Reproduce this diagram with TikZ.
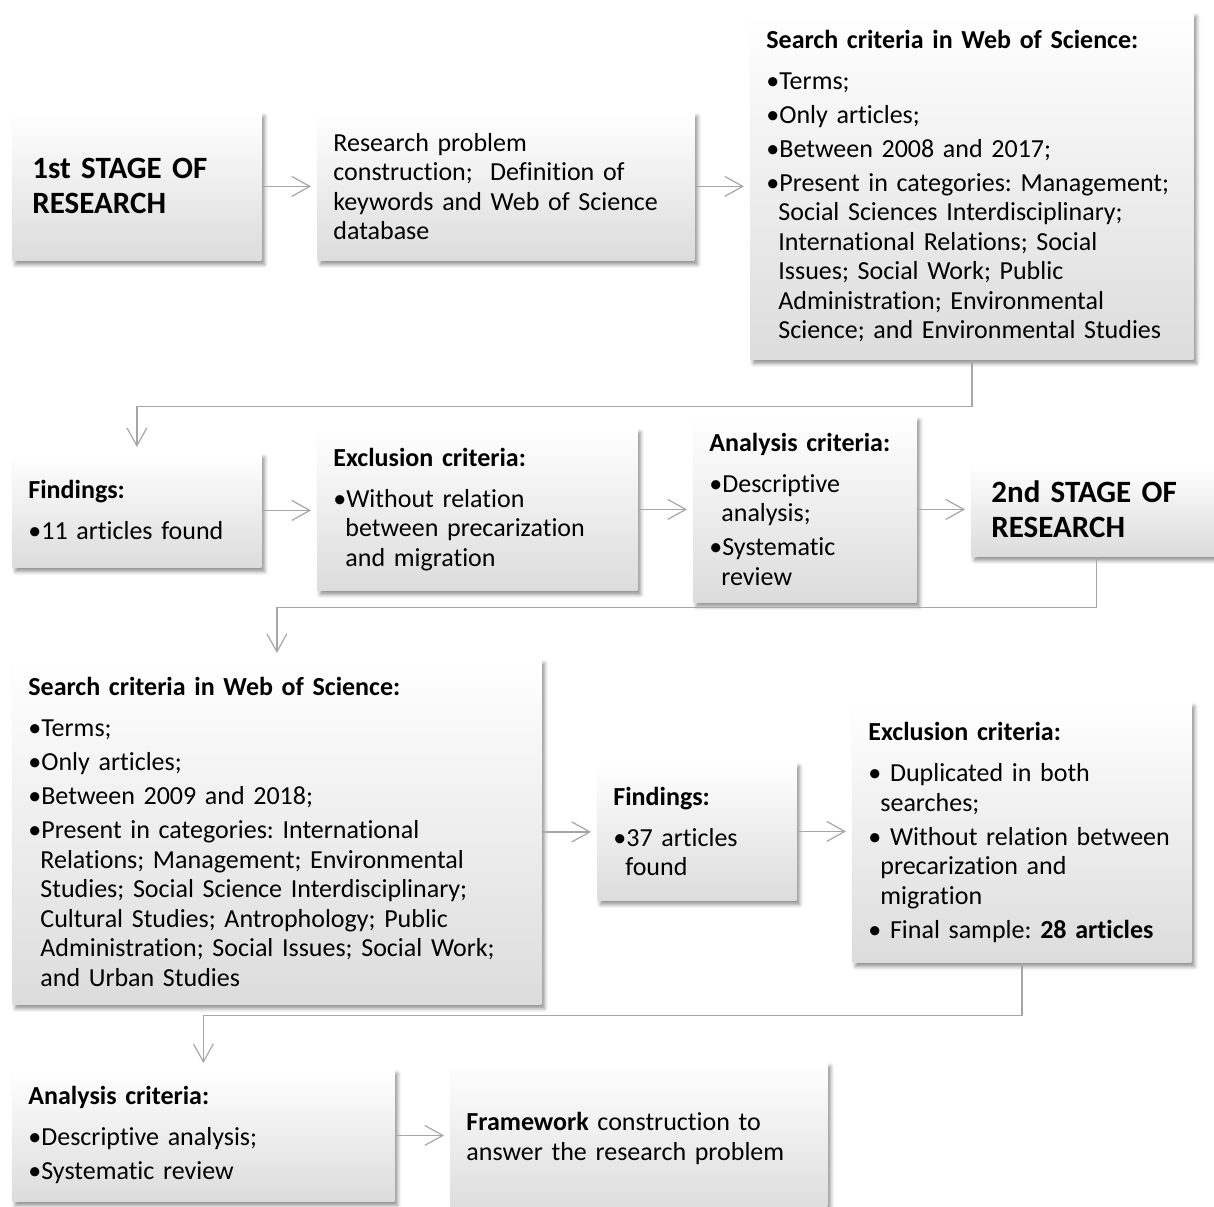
\documentclass[tikz,border=0pt]{standalone}
\usepackage{fontspec}
\setmainfont{Carlito}[Ligatures=CommonOff]
\usepackage{tikz}
\usetikzlibrary{arrows.meta,shadows.blur}
\definecolor{linkgray}{HTML}{A6A6A6}
\definecolor{boxbottom}{HTML}{DCDCDC}
\tikzset{
    box/.style={
        anchor=north west,
        align=left,
        inner xsep=8pt,
        inner ysep=0pt,
        top color=white,
        bottom color=boxbottom,
        blur shadow={shadow xshift=1.5pt,shadow yshift=-2pt,shadow blur steps=6,shadow opacity=45},
        font=\fontsize{13}{14.75}\selectfont\frenchspacing
    },
    stagebox/.style={
        box,
        inner xsep=10pt,
        font=\fontsize{15.5}{17.5}\selectfont\bfseries
    },
    link/.style={
        -{Straight Barb[length=9pt,width=10pt]},
        line width=0.6pt,
        color=linkgray,
        shorten >=3pt
    }
}
\newcommand{\hangin}{\hspace*{6pt}}

\begin{document}
\begin{tikzpicture}[x=0.5pt,y=-0.5pt]

    \useasboundingbox (0,0) rectangle (1214,1206);

    % Première étape
    \node[
        stagebox,
        text width=104.5pt,
        minimum height=74pt
    ] (stage1)
        at (12,112)
        {1st STAGE OF\\RESEARCH};

    % Problème de recherche
    \node[
        box,
        text width=172.5pt,
        minimum height=74pt
    ] (prob)
        at (317,112)
        {Research problem\\construction;\ \ Definition of\\keywords and Web of Science\\database};

    % Critères de recherche (1)
    \node[
        box,
        text width=205.5pt,
        minimum height=173.5pt
    ] (crit1)
        at (750,12)
        {\textbf{Search criteria in Web of Science:}\\[5.75pt]
         •Terms;\\[2.25pt]
         •Only articles;\\[2.25pt]
         •Between 2008 and 2017;\\[2.25pt]
         •Present in categories: Management;\\
         \hangin Social Sciences Interdisciplinary;\\
         \hangin International Relations; Social\\
         \hangin Issues; Social Work; Public\\
         \hangin Administration; Environmental\\
         \hangin Science; and Environmental Studies};

    % Résultats (1)
    \node[
        box,
        text width=108.5pt,
        minimum height=57pt
    ] (find1)
        at (12,453)
        {\textbf{Findings:}\\[5.75pt]
         •11 articles found};

    % Exclusion (1)
    \node[
        box,
        text width=144pt,
        minimum height=81pt
    ] (excl1)
        at (317,428)
        {\textbf{Exclusion criteria:}\\[5.75pt]
         •Without relation\\
         \hangin between precarization\\
         \hangin and migration};

    % Analyse (1)
    \node[
        box,
        text width=95.5pt,
        minimum height=93pt
    ] (anal1)
        at (693,416)
        {\textbf{Analysis criteria:}\\[5.75pt]
         •Descriptive\\
         \hangin analysis;\\[2.25pt]
         •Systematic\\
         \hangin review};

    % Deuxième étape
    \node[
        stagebox,
        text width=105pt,
        minimum height=47pt
    ] (stage2)
        at (971,462)
        {2nd STAGE OF\\RESEARCH};

    % Critères de recherche (2)
    \node[
        box,
        text width=248.5pt,
        minimum height=172.5pt
    ] (crit2)
        at (12,659)
        {\textbf{Search criteria in Web of Science:}\\[5.75pt]
         •Terms;\\[2.25pt]
         •Only articles;\\[2.25pt]
         •Between 2009 and 2018;\\[2.25pt]
         •Present in categories: International\\
         \hangin Relations; Management; Environmental\\
         \hangin Studies; Social Science Interdisciplinary;\\
         \hangin Cultural Studies; Antrophology; Public\\
         \hangin Administration; Social Issues; Social Work;\\
         \hangin and Urban Studies};

    % Résultats (2)
    \node[
        box,
        text width=83.5pt,
        minimum height=69pt
    ] (find2)
        at (597,762)
        {\textbf{Findings:}\\[5.75pt]
         •37 articles\\
         \hangin found};

    % Exclusion (2)
    \node[
        box,
        text width=153.5pt,
        minimum height=130pt
    ] (excl2)
        at (852,702)
        {\textbf{Exclusion criteria:}\\[5.75pt]
         • Duplicated in both\\
         \hangin searches;\\[2.25pt]
         • Without relation between\\
         \hangin precarization and\\
         \hangin migration\\[2.25pt]
         • Final sample: \textbf{28 articles}};

    % Analyse (2)
    \node[
        box,
        text width=175pt,
        minimum height=66pt
    ] (anal2)
        at (12,1069)
        {\textbf{Analysis criteria:}\\[5.75pt]
         •Descriptive analysis;\\[2.25pt]
         •Systematic review};

    % Cadre final
    \node[
        box,
        text width=172.5pt,
        minimum height=76pt
    ] (frame)
        at (450,1062)
        {\textbf{Framework} construction to\\answer the research problem};

    % Flèches
    \draw[link] (stage1.east) -- (stage1.east -| prob.west);
    \draw[link] (prob.east) -- (prob.east -| crit1.west);
    \draw[link] (crit1.south) -- ++(0,47) -| (find1.north);
    \draw[link] (find1.east) -- (find1.east -| excl1.west);
    \draw[link] (excl1.east) -- (excl1.east -| anal1.west);
    \draw[link] (anal1.east) -- (anal1.east -| stage2.west);
    \draw[link] (stage2.south) -- ++(0,51) -| (crit2.north);
    \draw[link] (crit2.east) -- (crit2.east -| find2.west);
    \draw[link] (find2.east) -- (find2.east -| excl2.west);
    \draw[link] (excl2.south) -- ++(0,53) -| (anal2.north);
    \draw[link] (anal2.east) -- (anal2.east -| frame.west);

\end{tikzpicture}
\end{document}
